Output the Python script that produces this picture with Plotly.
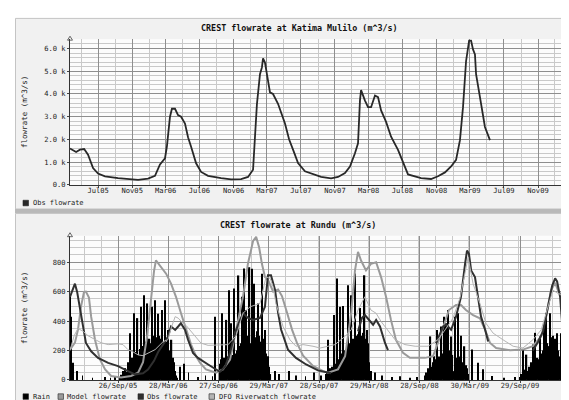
import plotly.graph_objects as go
import pandas as pd

W, H = 569, 400

# ---------------- Top panel: Katima Mulilo observed flowrate (m^3/s) ----------------
kat_dates = [
    "2005-03-22", "2005-04-13", "2005-04-27", "2005-05-12", "2005-05-26", "2005-06-13",
    "2005-07-01", "2005-07-26", "2005-09-11", "2005-10-28", "2005-11-22", "2005-12-28",
    "2006-01-22", "2006-02-09", "2006-02-27", "2006-03-06", "2006-03-17", "2006-03-24",
    "2006-04-04", "2006-04-15", "2006-04-26", "2006-05-10", "2006-05-21", "2006-06-01",
    "2006-06-19", "2006-07-07", "2006-08-01", "2006-09-17", "2006-10-23", "2006-11-28",
    "2006-12-23", "2007-01-10", "2007-01-17", "2007-01-24", "2007-02-04", "2007-02-11",
    "2007-02-15", "2007-02-22", "2007-03-01", "2007-03-12", "2007-03-23", "2007-04-10",
    "2007-05-05", "2007-05-20", "2007-06-03", "2007-06-21", "2007-07-16", "2007-08-21",
    "2007-09-12", "2007-10-18", "2007-11-12", "2007-12-07", "2007-12-25", "2008-01-12",
    "2008-01-23", "2008-01-30", "2008-02-03", "2008-02-17", "2008-02-28", "2008-03-10",
    "2008-03-24", "2008-04-04", "2008-04-15", "2008-05-03", "2008-05-21", "2008-06-15",
    "2008-07-10", "2008-07-21", "2008-09-06", "2008-10-12", "2008-11-06", "2008-12-01",
    "2008-12-23", "2009-01-10", "2009-01-24", "2009-02-04", "2009-02-15", "2009-02-26",
    "2009-03-05", "2009-03-12", "2009-03-19", "2009-03-23", "2009-04-06", "2009-04-17",
    "2009-04-24", "2009-05-12",
]
kat_flow = [
    1600, 1450, 1550, 1580, 1330, 740,
    500, 380, 300, 250, 220, 280,
    400, 900, 1170, 1700, 3000, 3350,
    3350, 3070, 3000, 2700, 2100, 1680,
    950, 570, 400, 300, 240, 250,
    350, 670, 1970, 3550, 4870, 5170,
    5570, 5380, 4870, 4070, 4000, 3570,
    2700, 2000, 1550, 960, 600, 450,
    350, 290, 350, 520, 810, 1390,
    1830, 3720, 4170, 3710, 3420, 3420,
    3930, 3860, 3280, 2770, 2120, 1540,
    810, 460, 300, 260, 380, 550,
    810, 1100, 1970, 3420, 5450, 6350,
    6350, 5960, 5740, 4870, 3860, 3130,
    2550, 1970,
]
kat_tick_dates = ["2005-07-01", "2005-11-01", "2006-03-01", "2006-07-01", "2006-11-01",
                  "2007-03-01", "2007-07-01", "2007-11-01", "2008-03-01", "2008-07-01",
                  "2008-11-01", "2009-03-01", "2009-07-01", "2009-11-01"]
kat_tick_labels = ["Jul05", "Nov05", "Mar06", "Jul06", "Nov06", "Mar07", "Jul07", "Nov07",
                   "Mar08", "Jul08", "Nov08", "Mar09", "Jul09", "Nov09"]
kat_y_ticks = [0, 1000, 2000, 3000, 4000, 5000, 6000]
kat_y_labels = ["0.0", "1.0 k", "2.0 k", "3.0 k", "4.0 k", "5.0 k", "6.0 k"]

# ---------------- Bottom panel: Rundu ----------------
# Rain: wet-season blocks sampled every 4 days from each start date
rain_step_days = 4
rain_s1_start = "2005-10-03"
rain_s1 = [20, 35, 15, 60, 40, 80, 55, 120,
           90, 318, 110, 150, 130, 453, 160,
           190, 420, 170, 210, 497, 230, 200,
           576, 240, 260, 520, 220, 280, 250,
           497, 300, 40, 542, 290, 240, 450, 300,
           280, 475, 250, 60, 542, 260, 230,
           340, 200, 180, 273, 150, 120, 60, 30, 15]
rain_s2_start = "2006-10-02"
rain_s2 = [110, 140, 453, 120, 150, 130,
           408, 160, 610, 40, 385,
           170, 150, 621, 180, 160,
           200, 710, 230, 250, 565,
           240, 757, 60, 475, 280,
           300, 766, 250, 755, 320,
           654, 290, 50, 330, 520,
           300, 260, 721, 280, 200,
           340, 180, 150, 161, 90, 40]
rain_s3_start = "2007-10-24"
rain_s3 = [40, 60, 273, 50, 80,
           90, 70, 441, 100, 110,
           690, 120, 140, 497, 180,
           502, 200, 60, 210, 220,
           643, 250, 230, 575, 260,
           280, 724, 300, 70, 310,
           330, 488, 290, 300, 320,
           711, 280, 340, 250, 120]
rain_s4_start = "2008-10-18"
rain_s4 = [30, 50, 40, 80, 60,
           296, 90, 120, 161, 100,
           140, 340, 130, 160, 40,
           363, 180, 430, 200, 385,
           230, 475, 200, 190, 296,
           170, 60, 430, 150, 140,
           453, 130, 160, 300, 120,
           110, 229, 100, 80, 40]
rain_s5_start = "2009-09-29"
rain_s5 = [20, 40, 30, 206, 50,
           70, 172, 60, 90, 80,
           120, 100, 240, 130, 320,
           110, 150, 140, 296, 160,
           180, 200, 363, 220, 455,
           250, 230, 453, 270, 290,
           300, 260, 280, 240, 318,
           200, 160, 318, 90, 40]
# isolated dry-season rain spikes
rain_blip_dates = ["2005-04-04", "2005-04-07", "2005-04-14", "2005-04-30", "2005-05-20",
                   "2005-06-25", "2005-08-10", "2005-08-30", "2005-09-15",
                   "2006-05-10", "2006-05-25", "2006-06-10", "2006-07-15", "2006-08-10",
                   "2006-09-05", "2006-09-13",
                   "2007-04-20", "2007-05-05", "2007-06-10", "2007-07-05", "2007-08-10",
                   "2007-09-10", "2007-10-05",
                   "2008-04-05", "2008-04-20", "2008-05-15", "2008-06-20", "2008-07-20",
                   "2008-08-25", "2008-09-20",
                   "2009-04-07", "2009-04-29", "2009-05-17", "2009-06-20", "2009-08-01",
                   "2009-09-10"]
rain_blip_vals = [565, 430, 116, 60, 30,
                  15, 20, 15, 25,
                  90, 110, 50, 20, 30,
                  25, 430,
                  60, 40, 60, 30, 25,
                  50, 30,
                  60, 50, 30, 20, 25,
                  15, 20,
                  206, 116, 72, 27, 15,
                  20]

model_dates = [
    "2005-04-04", "2005-04-22", "2005-05-03", "2005-05-14", "2005-05-25", "2005-06-01",
    "2005-06-12", "2005-06-20", "2005-07-04", "2005-07-22", "2005-08-10", "2005-09-01",
    "2005-10-07", "2005-11-12", "2005-12-08", "2005-12-26", "2006-01-10", "2006-01-24",
    "2006-02-04", "2006-02-11", "2006-03-02", "2006-03-20", "2006-04-07", "2006-04-25",
    "2006-05-13", "2006-06-01", "2006-06-19", "2006-07-07", "2006-07-22", "2006-08-12",
    "2006-09-18", "2006-10-13", "2006-11-08", "2006-11-30", "2006-12-25", "2007-01-12",
    "2007-01-31", "2007-02-11", "2007-02-22", "2007-03-04", "2007-03-15", "2007-03-26",
    "2007-04-14", "2007-05-02", "2007-05-16", "2007-06-03", "2007-06-22", "2007-07-10",
    "2007-08-01", "2007-09-06", "2007-10-13", "2007-10-31", "2007-12-06", "2008-01-01",
    "2008-01-23", "2008-02-06", "2008-02-17", "2008-02-28", "2008-03-17", "2008-04-04",
    "2008-04-23", "2008-05-11", "2008-05-29", "2008-06-16", "2008-07-04", "2008-07-30",
    "2008-08-24", "2008-10-18", "2008-11-16", "2008-12-04", "2008-12-23", "2009-01-13",
    "2009-02-08", "2009-02-26", "2009-03-16", "2009-04-11", "2009-05-06", "2009-05-25",
    "2009-06-12", "2009-07-04", "2009-08-24", "2009-10-10", "2009-11-15", "2009-12-15",
    "2010-01-02", "2010-01-20", "2010-02-04", "2010-02-18", "2010-03-05",
]
model_flow = [
    206, 253, 340, 497, 598, 600,
    560, 430, 273, 139, 72, 27,
    16, 27, 49, 120, 300, 550,
    740, 812, 766, 722, 654, 565,
    455, 340, 240, 161, 116, 72,
    49, 72, 139, 340, 565, 789,
    945, 972, 900, 789, 700, 680,
    600, 615, 570, 460, 340, 250,
    165, 95, 60, 49, 72, 161,
    453, 744, 870, 811, 744, 789,
    800, 699, 565, 408, 273, 184,
    150, 150, 161, 251, 363, 475,
    509, 509, 475, 441, 419, 340,
    251, 217, 202, 206, 229, 296,
    430, 610, 660, 590, 576,
]

obs_dates = [
    "2005-04-04", "2005-04-15", "2005-04-22", "2005-04-30", "2005-05-11", "2005-05-22",
    "2005-06-01", "2005-06-20", "2005-07-15", "2005-08-21", "2005-09-26", "2005-11-01",
    "2005-11-27", "2005-12-26", "2006-01-13", "2006-02-04", "2006-02-19", "2006-03-16",
    "2006-03-27", "2006-04-07", "2006-04-22", "2006-05-03", "2006-05-13", "2006-05-28",
    "2006-06-08", "2006-06-26", "2006-07-14", "2006-08-20", "2006-10-02", "2006-10-21",
    "2006-11-08", "2006-11-30", "2006-12-25", "2007-01-12", "2007-01-31", "2007-02-25",
    "2007-03-15", "2007-03-26", "2007-04-06", "2007-04-21", "2007-05-02", "2007-05-13",
    "2007-06-07", "2007-07-06", "2007-08-12", "2007-09-24", "2007-11-11", "2007-12-01",
    "2008-02-17", "2008-03-02", "2008-03-13", "2008-03-27", "2008-04-12", "2008-04-23",
    "2008-05-07", "2008-05-25", "2008-06-05", "2008-07-01",
    "2008-11-27", "2008-12-23", "2009-01-03", "2009-01-21", "2009-02-08", "2009-02-26",
    "2009-03-13", "2009-03-20", "2009-03-27", "2009-04-04", "2009-04-18", "2009-04-29",
    "2009-05-10", "2009-05-25", "2009-06-05", "2009-07-01",
    "2009-11-15", "2009-12-04", "2009-12-22", "2010-01-09", "2010-01-24", "2010-02-04",
    "2010-02-11", "2010-02-22", "2010-03-05",
]
obs_flow = [
    565, 621, 654, 598, 475, 340,
    251, 195, 150, 116, 94, 60,
    38, 45, 70, 130, 190, 260,
    296, 363, 340, 363, 385, 340,
    273, 184, 150, 105, 55, 90,
    186, 341, 455, 421, 408, 421,
    497, 711, 711, 610, 455, 341,
    205, 150, 105, 65, 45, None,
    330, 420, 441, 408, 375, 408,
    363, 253, 202, None,
    250, 363, 375, 341, 430, 565,
    790, 879, 857, 744, 699, 565,
    430, 341, 262, None,
    200, 260, 330, 497, 640, 690,
    670, 565, 296,
]

dfo_dates = [
    "2005-04-04", "2005-04-19", "2005-05-03", "2005-05-22", "2005-06-09", "2005-07-04",
    "2005-07-26", "2005-08-21", "2005-09-26", "2005-10-14", "2005-11-01", "2005-11-20",
    "2005-12-08", "2005-12-26", "2006-01-13", "2006-02-08", "2006-03-09", "2006-03-27",
    "2006-04-07", "2006-04-22", "2006-05-03", "2006-05-13", "2006-06-01", "2006-06-19",
    "2006-07-07", "2006-07-25", "2006-08-20", "2006-09-25", "2006-11-01", "2006-11-30",
    "2006-12-25", "2007-01-20", "2007-02-25", "2007-03-19", "2007-04-03", "2007-04-14",
    "2007-04-24", "2007-05-20", "2007-06-14", "2007-07-06", "2007-08-01", "2007-09-06",
    "2007-10-02", "2007-10-31", "2007-11-25", "2008-01-01", "2008-01-23", "2008-02-17",
    "2008-03-13", "2008-04-04", "2008-04-23", "2008-05-11", "2008-06-05", "2008-07-01",
    "2008-08-06", "2008-09-12", "2008-10-29", "2008-12-04", "2008-12-30", "2009-01-28",
    "2009-02-23", "2009-03-13", "2009-03-24", "2009-04-11", "2009-05-06", "2009-05-28",
    "2009-06-23", "2009-07-29", "2009-09-04", "2009-10-10", "2009-11-15", "2009-12-15",
    "2010-01-09", "2010-01-27", "2010-02-15", "2010-03-05",
]
dfo_flow = [
    200, 300, 350, 330, 300, 274,
    253, 240, 245, 240, 206, 190,
    170, 165, 180, 206, 260, 274,
    350, 430, 420, 400, 370, 330,
    290, 250, 235, 240, 240, 300,
    453, 497, 520, 700, 690, 632,
    520, 363, 273, 229, 240, 229,
    217, 229, 240, 296, 340, 475,
    565, 475, 453, 397, 340, 273,
    240, 229, 229, 273, 340, 420,
    560, 744, 833, 654, 520, 385,
    318, 273, 229, 217, 273, 340,
    497, 610, 587, 576,
]

rundu_tick_dates = ["2005-09-26", "2006-03-28", "2006-09-27", "2007-03-29", "2007-09-28",
                    "2008-03-29", "2008-09-28", "2009-03-30", "2009-09-29"]
rundu_tick_labels = ["26/Sep/05", "28/Mar/06", "27/Sep/06", "29/Mar/07", "28/Sep/07",
                     "29/Mar/08", "28/Sep/08", "30/Mar/09", "29/Sep/09"]
rundu_y_ticks = [0, 200, 400, 600, 800]

# ---------------- colours ----------------
C_RAIN = "#000000"
C_MODEL = "#9a9a9a"
C_OBS = "#303030"
C_DFO = "#b4b4b4"
FONT = "DejaVu Sans Mono"
DAY_MS = 86400000
GRID_MAJOR = "#8e8e8e"
GRID_MINOR = "#c9c9c9"


def px(x):
    return x / W


def py(y):
    return 1 - y / H


fig = go.Figure()

fig.add_trace(go.Scatter(x=kat_dates, y=kat_flow, mode="lines",
                         line=dict(color="#282828", width=1.8),
                         xaxis="x", yaxis="y", name="Obs flowrate"))

rain_x, rain_y = [], []
for start, vals in [(rain_s1_start, rain_s1), (rain_s2_start, rain_s2), (rain_s3_start, rain_s3),
                    (rain_s4_start, rain_s4), (rain_s5_start, rain_s5)]:
    dts = pd.date_range(start, periods=len(vals), freq=f"{rain_step_days}D")
    rain_x += [d.strftime("%Y-%m-%d") for d in dts]
    rain_y += vals

fig.add_trace(go.Bar(x=rain_x, y=rain_y, width=(rain_step_days + 0.6) * DAY_MS,
                     marker=dict(color=C_RAIN, line=dict(width=0)),
                     xaxis="x2", yaxis="y2", name="Rain"))
fig.add_trace(go.Bar(x=rain_blip_dates, y=rain_blip_vals, width=2.5 * DAY_MS,
                     marker=dict(color=C_RAIN, line=dict(width=0)),
                     xaxis="x2", yaxis="y2", name="Rain", showlegend=False))
fig.add_trace(go.Scatter(x=model_dates, y=model_flow, mode="lines",
                         line=dict(color=C_MODEL, width=2),
                         xaxis="x2", yaxis="y2", name="Model flowrate"))
fig.add_trace(go.Scatter(x=obs_dates, y=obs_flow, mode="lines", connectgaps=False,
                         line=dict(color=C_OBS, width=2),
                         xaxis="x2", yaxis="y2", name="Obs flowrate"))
fig.add_trace(go.Scatter(x=dfo_dates, y=dfo_flow, mode="lines",
                         line=dict(color=C_DFO, width=1),
                         xaxis="x2", yaxis="y2", name="DFO Riverwatch flowrate"))

tickfont = dict(family=FONT, size=7.1, color="#222")
x_dom = [px(62), px(565)]

common_x = dict(type="date", showline=True, linecolor="#333", linewidth=1,
                ticks="outside", ticklen=2, tickcolor="#444", tickfont=tickfont,
                ticklabelstandoff=-3,
                gridcolor=GRID_MAJOR, gridwidth=1, zeroline=False, fixedrange=True)
common_y = dict(showline=True, linecolor="#333", linewidth=1,
                ticks="outside", ticklen=2, tickcolor="#444", tickfont=tickfont,
                gridcolor=GRID_MAJOR, gridwidth=1, zeroline=False, fixedrange=True)

fig.update_layout(
    width=W, height=H,
    margin=dict(l=0, r=0, t=0, b=0),
    paper_bgcolor="#f1f1f1",
    plot_bgcolor="#fcfcfc",
    showlegend=False,
    hovermode=False,
    barmode="overlay",
    font=dict(family=FONT, color="#222"),
    xaxis=dict(common_x, domain=x_dom, anchor="y",
               range=["2005-03-22", "2010-03-07"],
               tickmode="array", tickvals=kat_tick_dates, ticktext=kat_tick_labels,
               minor=dict(dtick="M2", tick0="2005-01-01", showgrid=True,
                          gridcolor=GRID_MINOR, ticks="")),
    yaxis=dict(common_y, domain=[py(178.7), py(31.5)], anchor="x",
               range=[0, 6410],
               tickmode="array", tickvals=kat_y_ticks, ticktext=kat_y_labels,
               minor=dict(dtick=200, showgrid=True, gridcolor=GRID_MINOR, ticks="")),
    xaxis2=dict(common_x, domain=x_dom, anchor="y2",
                range=["2005-04-04", "2010-04-10"],
                tickmode="array", tickvals=rundu_tick_dates, ticktext=rundu_tick_labels,
                minor=dict(dtick=182.5 / 3 * DAY_MS, tick0="2005-09-26", showgrid=True,
                           gridcolor=GRID_MINOR, ticks="")),
    yaxis2=dict(common_y, domain=[py(375.7), py(230)], anchor="x2",
                range=[0, 980],
                tickmode="array", tickvals=rundu_y_ticks,
                ticktext=[str(v) for v in rundu_y_ticks],
                minor=dict(dtick=50, showgrid=True, gridcolor=GRID_MINOR, ticks="")),
)

shapes = []
# white surround outside the panels
shapes.append(dict(type="rect", xref="paper", yref="paper", x0=-0.01, x1=px(7),
                   y0=-0.01, y1=1.01, fillcolor="white", line=dict(width=0), layer="below"))
shapes.append(dict(type="rect", xref="paper", yref="paper", x0=-0.01, x1=1.01,
                   y0=py(10), y1=1.01, fillcolor="white", line=dict(width=0), layer="below"))
# panel borders
shapes.append(dict(type="rect", xref="paper", yref="paper", x0=px(7.5), x1=1.01,
                   y0=py(203), y1=py(10.5), fillcolor="rgba(0,0,0,0)",
                   line=dict(color="#c4c4c4", width=1), layer="below"))
shapes.append(dict(type="rect", xref="paper", yref="paper", x0=px(7), x1=1.01,
                   y0=py(207), y1=py(203), fillcolor="#b9b9b9", line=dict(width=0), layer="below"))
shapes.append(dict(type="rect", xref="paper", yref="paper", x0=px(7.5), x1=1.01,
                   y0=-0.01, y1=py(207.5), fillcolor="rgba(0,0,0,0)",
                   line=dict(color="#c4c4c4", width=1), layer="below"))
# axis arrows
for yb in (178.7, 375.7):
    shapes.append(dict(type="path", xref="paper", yref="paper",
                       path=f"M {px(564.5)},{py(yb - 2.5)} L {px(568.5)},{py(yb)} L {px(564.5)},{py(yb + 2.5)} Z",
                       line=dict(color="#444", width=0.8), fillcolor="rgba(0,0,0,0)"))
for yt in (31.5, 230):
    shapes.append(dict(type="path", xref="paper", yref="paper",
                       path=f"M {px(59.5)},{py(yt + 1)} L {px(62)},{py(yt - 3)} L {px(64.5)},{py(yt + 1)} Z",
                       line=dict(color="#444", width=0.8), fillcolor="rgba(0,0,0,0)"))

# legend boxes
legend_items_top = [(15, "#282828", 24, "Obs flowrate")]
legend_items_bottom = [(15, C_RAIN, 24, "Rain"), (50, C_MODEL, 58, "Model flowrate"),
                       (130, C_OBS, 138, "Obs flowrate"), (201, C_DFO, 210, "DFO Riverwatch flowrate")]
annotations = []
for items, yc in ((legend_items_top, 197), (legend_items_bottom, 392.5)):
    for bx, col, tx, label in items:
        shapes.append(dict(type="rect", xref="paper", yref="paper",
                           x0=px(bx), x1=px(bx + 5.5), y0=py(yc + 2.8), y1=py(yc - 2.8),
                           fillcolor=col, line=dict(color="#222", width=0.6)))
        annotations.append(dict(x=px(tx), y=py(yc), xref="paper", yref="paper",
                                text=label, showarrow=False, xanchor="left", yanchor="middle",
                                borderpad=0,
                                font=dict(family=FONT, size=7.0, color="#222")))

# titles
annotations.append(dict(x=px(291), y=py(20), xref="paper", yref="paper",
                        text="<b>CREST flowrate at Katima Mulilo (m^3/s)</b>", showarrow=False,
                        xanchor="center", yanchor="middle",
                        font=dict(family=FONT, size=8.4, color="#111")))
annotations.append(dict(x=px(290), y=py(219), xref="paper", yref="paper",
                        text="<b>CREST flowrate at Rundu (m^3/s)</b>", showarrow=False,
                        xanchor="center", yanchor="middle",
                        font=dict(family=FONT, size=8.4, color="#111")))
# vertical axis titles
for yc in (105, 303):
    annotations.append(dict(x=px(17), y=py(yc), xref="paper", yref="paper",
                            text="flowrate (m^3/s)", showarrow=False, textangle=-90,
                            xanchor="center", yanchor="middle",
                            font=dict(family=FONT, size=7.5, color="#222")))
# faint watermark on the right edge
for yt in (13, 212):
    annotations.append(dict(x=px(564.3), y=py(yt), xref="paper", yref="paper",
                            text="RRDTOOL / TOBI OETIKER", showarrow=False, textangle=90,
                            xanchor="center", yanchor="top", borderpad=0,
                            font=dict(family=FONT, size=3.5, color="#c2c2c2")))

fig.update_layout(shapes=shapes, annotations=annotations)

fig.write_html("out.html")
